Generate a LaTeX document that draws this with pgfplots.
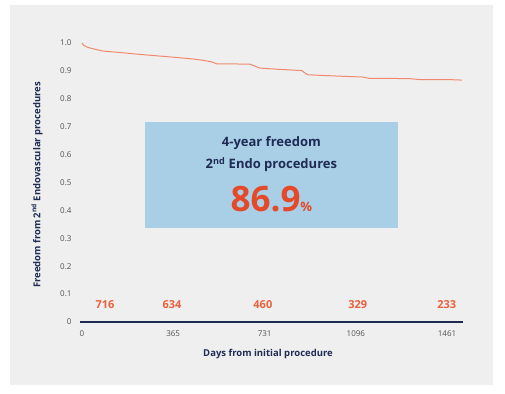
\documentclass[border=0pt]{standalone}
\usepackage{pgfplots}
\pgfplotsset{compat=1.18}
\usepackage{fontspec}
\setmainfont{Open Sans}
\definecolor{panel}{HTML}{EFEFEF}
\definecolor{navy}{HTML}{1F2B55}
\definecolor{curve}{HTML}{EF8A6E}
\definecolor{riskred}{HTML}{E8603C}
\definecolor{boxblue}{HTML}{A9CFE7}
\definecolor{bigred}{HTML}{E4492A}
\definecolor{ticktext}{HTML}{505050}
\begin{document}
\begin{tikzpicture}
% page and panel
\fill[white] (0,0) rectangle (505pt,393pt);
\fill[panel] (10pt,8pt) rectangle (493pt,388pt);
\begin{axis}[
  at={(80pt,71pt)}, anchor=south west,
  scale only axis, width=383pt, height=284.6pt,
  xmin=-8, xmax=1525, ymin=0, ymax=1.02,
  axis x line=bottom, axis y line=none,
  x axis line style={navy, line width=1.3pt, -},
  xtick={0,365,731,1096,1461},
  xticklabels={0,365,731,1096,1461},
  ytick={0,0.1,0.2,0.3,0.4,0.5,0.6,0.7,0.8,0.9,1.0},
  major tick length=0pt,
  xticklabel style={font=\fontsize{8}{9}\selectfont, text=ticktext, yshift=-5pt},
  clip=false,
  /pgf/number format/assume math mode=true,
]
% y tick labels, placed to the left of the (hidden) y axis
\foreach \v/\t in {0/0,0.1/0.1,0.2/0.2,0.3/0.3,0.4/0.4,0.5/0.5,0.6/0.6,0.7/0.7,0.8/0.8,0.9/0.9,1.0/1.0}{
  \edef\tmp{\noexpand\node[anchor=east, font=\noexpand\fontsize{8}{9}\noexpand\selectfont, text=ticktext] at (axis cs:-28,\v) {\t};}
  \tmp
}
% summary box
\fill[boxblue] (axis cs:252,0.337) rectangle (axis cs:1264,0.717);
\node[text=navy, font=\bfseries\fontsize{13}{14}\selectfont] at (axis cs:758,0.64) {4-year freedom};
\node[text=navy, font=\bfseries\fontsize{13}{14}\selectfont] at (axis cs:758,0.565) {2\textsuperscript{nd} Endo procedures};
\node[text=bigred, font=\bfseries\fontsize{35}{38}\selectfont] at (axis cs:758,0.44) {86.9{\fontsize{13}{14}\selectfont\%}};
% Kaplan-Meier curve
\addplot[curve, line width=1pt] coordinates {
  (0,1.000) (6,0.992) (24,0.984) (50,0.978) (84,0.971) (150,0.966)
  (220,0.960) (300,0.954) (380,0.948) (440,0.943) (484,0.938)
  (520,0.932) (540,0.925) (600,0.925) (672,0.924) (690,0.918)
  (700,0.914) (712,0.910) (780,0.906) (840,0.903) (880,0.901)
  (890,0.894) (904,0.886) (980,0.883) (1060,0.880) (1124,0.878)
  (1140,0.875) (1152,0.873) (1240,0.873) (1312,0.872) (1352,0.869)
  (1461,0.869) (1520,0.867)
};
% numbers at risk
\foreach \x/\n in {92/716,360/634,724/460,1104/329,1460/233}{
  \edef\tmp{\noexpand\node[text=riskred, font=\noexpand\bfseries\noexpand\fontsize{11}{12}\noexpand\selectfont] at (axis cs:\x,0.061) {\n};}
  \tmp
}
\end{axis}
% axis titles
\node[text=navy, font=\bfseries\fontsize{9.5}{10}\selectfont] at (268pt,39pt) {Days from initial procedure};
\node[text=navy, font=\bfseries\fontsize{9.5}{10}\selectfont, rotate=90] at (37pt,208pt) {Freedom from 2\textsuperscript{nd} Endovascular procedures};
\end{tikzpicture}
\end{document}
